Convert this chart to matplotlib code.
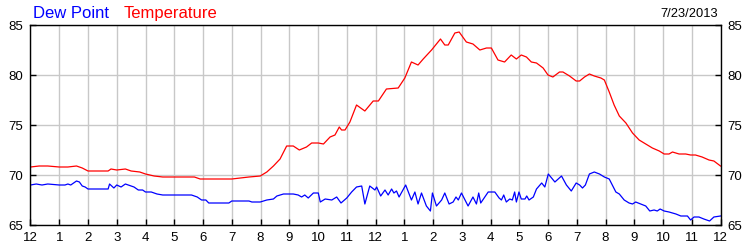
import matplotlib.pyplot as plt

# hours after midnight, temperature (F)
temp_hours = [0, 0.3, 0.6, 1.0, 1.3, 1.6, 1.8, 2.0, 2.4, 2.7, 2.8, 3.0, 3.3, 3.5, 3.8,
              4.0, 4.3, 4.6, 5.0, 5.7, 5.9, 6.2, 7.0, 7.6, 7.99, 8.22, 8.45, 8.68, 8.91,
              9.14, 9.35, 9.6, 9.78, 10.01, 10.19, 10.42, 10.59, 10.74, 10.82, 10.94,
              11.11, 11.34, 11.63, 11.92, 12.1, 12.38, 12.79, 13.02, 13.25, 13.48, 13.66,
              13.95, 14.26, 14.41, 14.53, 14.76, 14.91, 15.16, 15.39, 15.63, 15.86, 16.03,
              16.26, 16.49, 16.72, 16.9, 17.07, 17.25, 17.42, 17.6, 17.83, 18.0, 18.17,
              18.4, 18.52, 18.75, 18.98, 19.1, 19.27, 19.44, 19.61, 19.84, 19.96, 20.13,
              20.3, 20.48, 20.71, 20.94, 21.17, 21.4, 21.63, 21.87, 22.04, 22.21, 22.33,
              22.56, 22.79, 22.96, 23.13, 23.36, 23.6, 23.77, 24.0]
temp_vals = [70.8, 70.9, 70.9, 70.8, 70.8, 70.9, 70.7, 70.4, 70.4, 70.4, 70.6, 70.5, 70.6,
             70.4, 70.3, 70.1, 69.9, 69.8, 69.8, 69.8, 69.6, 69.6, 69.6, 69.8, 69.9, 70.3,
             70.9, 71.6, 72.9, 72.9, 72.5, 72.8, 73.2, 73.2, 73.1, 73.8, 74.0, 74.8, 74.5,
             74.5, 75.3, 77.0, 76.4, 77.4, 77.4, 78.6, 78.7, 79.7, 81.3, 81.0, 81.6, 82.5,
             83.6, 83.0, 83.0, 84.2, 84.3, 83.3, 83.1, 82.5, 82.7, 82.7, 81.5, 81.3, 82.0,
             81.6, 82.0, 81.8, 81.3, 81.2, 80.7, 80.0, 79.8, 80.3, 80.3, 79.9, 79.4, 79.4,
             79.8, 80.1, 79.9, 79.7, 79.5, 78.3, 77.0, 75.9, 75.2, 74.2, 73.5, 73.1, 72.7,
             72.4, 72.1, 72.1, 72.3, 72.1, 72.1, 72.0, 72.0, 71.8, 71.5, 71.4, 70.9]

# hours after midnight, dew point (F)
dew_hours = [0, 0.2, 0.4, 0.6, 1.0, 1.2, 1.3, 1.4, 1.6, 1.7, 1.8, 1.9, 2.0, 2.7, 2.75,
             2.9, 3.0, 3.15, 3.3, 3.4, 3.6, 3.75, 3.9, 4.0, 4.2, 4.4, 4.6, 5.6, 5.8, 5.95,
             6.1, 6.2, 6.9, 7.0, 7.6, 7.7, 7.99, 8.22, 8.45, 8.57, 8.8, 9.14, 9.31, 9.43,
             9.54, 9.66, 9.84, 10.01, 10.08, 10.25, 10.48, 10.65, 10.8, 11.0, 11.17, 11.34,
             11.52, 11.63, 11.8, 11.98, 12.04, 12.18, 12.33, 12.44, 12.56, 12.64, 12.73,
             12.82, 13.05, 13.25, 13.37, 13.48, 13.6, 13.77, 13.91, 13.98, 14.12, 14.3,
             14.41, 14.56, 14.7, 14.8, 14.88, 14.99, 15.22, 15.39, 15.51, 15.59, 15.66,
             15.92, 16.15, 16.3, 16.38, 16.46, 16.55, 16.67, 16.76, 16.84, 16.9, 16.99,
             17.07, 17.2, 17.26, 17.34, 17.49, 17.6, 17.78, 17.89, 18.01, 18.24, 18.47,
             18.64, 18.81, 18.98, 19.1, 19.2, 19.3, 19.44, 19.61, 19.79, 19.96, 20.13,
             20.36, 20.48, 20.65, 20.82, 20.94, 21.05, 21.23, 21.4, 21.54, 21.69, 21.8,
             21.9, 22.04, 22.21, 22.45, 22.62, 22.85, 22.96, 23.08, 23.25, 23.42, 23.62,
             23.77, 24.0]
dew_vals = [69.0, 69.1, 69.0, 69.1, 69.0, 69.0, 69.1, 69.0, 69.4, 69.3, 68.9, 68.8, 68.6,
            68.6, 69.1, 68.7, 69.0, 68.8, 69.1, 69.0, 68.8, 68.5, 68.5, 68.3, 68.3, 68.1,
            68.0, 68.0, 67.8, 67.5, 67.5, 67.2, 67.2, 67.4, 67.4, 67.3, 67.3, 67.5, 67.6,
            67.9, 68.1, 68.1, 68.0, 67.8, 68.0, 67.7, 68.2, 68.2, 67.3, 67.6, 67.5, 67.8,
            67.2, 67.7, 68.3, 68.8, 68.9, 67.1, 68.9, 68.5, 68.8, 67.9, 68.5, 68.0, 68.6,
            68.2, 68.4, 67.8, 69.0, 67.5, 68.3, 67.1, 68.2, 66.9, 66.4, 68.2, 66.9, 67.5,
            68.2, 67.1, 67.3, 67.8, 67.5, 68.2, 66.9, 67.8, 67.1, 68.2, 67.2, 68.3, 68.3,
            67.7, 67.5, 68.0, 67.3, 67.6, 67.5, 68.3, 67.3, 68.3, 67.6, 67.6, 67.9, 67.5,
            67.8, 68.6, 69.2, 68.8, 70.1, 69.3, 69.9, 69.0, 68.4, 69.2, 69.0, 68.7, 69.0,
            70.1, 70.3, 70.1, 69.8, 69.6, 68.3, 68.1, 67.5, 67.2, 67.1, 67.3, 67.1, 66.9,
            66.4, 66.5, 66.4, 66.6, 66.4, 66.3, 66.1, 65.9, 65.9, 65.5, 65.8, 65.8, 65.6,
            65.4, 65.8, 65.9]

hour_labels = ['12', '1', '2', '3', '4', '5', '6', '7', '8', '9', '10', '11',
               '12', '1', '2', '3', '4', '5', '6', '7', '8', '9', '10', '11', '12']
y_ticks = [65, 70, 75, 80, 85]
date_text = '7/23/2013'

plt.rcParams['font.family'] = ['Liberation Sans', 'DejaVu Sans']

fig = plt.figure(figsize=(7.5, 2.5), dpi=100)
ax = fig.add_axes([30.5 / 750, 25 / 250, 690 / 750, 200 / 250])

ax.plot(temp_hours, temp_vals, color='#ff0000', lw=0.9)
ax.plot(dew_hours, dew_vals, color='#0000ff', lw=0.9)

ax.set_xlim(0, 24)
ax.set_ylim(65, 85)
ax.set_xticks(range(25))
ax.set_xticklabels(hour_labels)
ax.set_yticks(y_ticks)
ax.grid(True, color='#c8c8c8', lw=1.0)
ax.set_axisbelow(True)
ax.tick_params(axis='x', direction='in', length=4, width=1, pad=5, labelsize=9.5)
ax.tick_params(axis='y', direction='in', length=4, width=1, pad=5, labelsize=9.5,
               right=True, labelright=True)
for s in ax.spines.values():
    s.set_linewidth(1.0)

fig.text(33 / 750, 1 - 17.7 / 250, 'Dew Point', color='#0000ff', fontsize=12, va='baseline')
fig.text(124 / 750, 1 - 17.7 / 250, 'Temperature', color='#ff0000', fontsize=12, va='baseline')
fig.text(718 / 750, 1 - 16.7 / 250, date_text, color='black', fontsize=9.3,
         ha='right', va='baseline')

fig.savefig('out.png', dpi=100)
